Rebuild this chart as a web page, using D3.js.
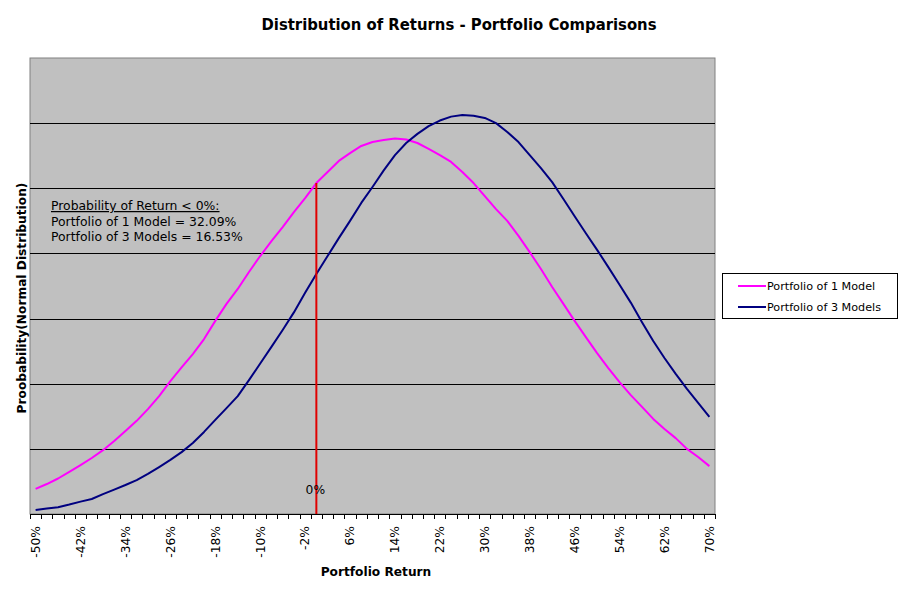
<!DOCTYPE html>
<html>
<head>
<meta charset="utf-8">
<script src="https://cdn.jsdelivr.net/npm/d3@7"></script>
<style>
  html, body { margin: 0; padding: 0; background: #ffffff; }
  svg { display: block; }
</style>
</head>
<body>
<div id="chart"></div>
<script>
// ---- data ----
const categories = d3.range(-50, 71, 2).map(v => v + "%");
const tickLabels = ["-50%","-42%","-34%","-26%","-18%","-10%","-2%","6%","14%","22%","30%","38%","46%","54%","62%","70%"];
const seriesNames = ["Portfolio of 1 Model", "Portfolio of 3 Models"];
const onePortfolio = [
  0.077,0.092,0.109,0.129,0.150,0.172,0.196,0.224,0.255,0.286,0.322,0.362,
  0.408,0.450,0.491,0.537,0.593,0.645,0.691,0.743,0.792,0.838,0.881,0.927,0.970,1.016,
  1.050,1.084,1.108,1.130,1.142,1.148,1.153,
  1.150,1.139,1.121,1.102,1.081,1.050,1.016,
  0.976,0.936,0.900,0.854,0.804,0.752,
  0.697,0.645,0.593,0.543,0.494,0.448,0.405,0.365,0.329,0.292,0.261,0.233,0.200,0.175,0.147
];
const threePortfolio = [
  0.012,0.017,0.021,0.029,0.038,0.046,0.061,0.075,0.089,0.104,0.123,0.144,0.166,0.190,0.218,0.252,
  0.289,0.325,0.362,0.411,0.462,0.513,0.565,0.619,0.679,0.737,0.792,0.847,0.900,0.955,1.004,
  1.055,1.102,1.139,1.167,1.191,1.208,1.220,1.225,1.223,1.216,1.200,1.173,1.142,1.102,1.062,
  1.019,0.967,0.914,0.862,0.811,0.758,0.704,0.649,0.589,0.531,0.479,0.430,0.384,0.341,0.298
];
const yGridValues = [0.2, 0.4, 0.6, 0.8, 1.0, 1.2];
const markerCategory = "0%";
const markerLabel = "0%";
const annotationLines = ["Probability of Return < 0%:", "Portfolio of 1 Model = 32.09%", "Portfolio of 3 Models = 16.53%"];
const titleText = "Distribution of Returns - Portfolio Comparisons";
const xTitle = "Portfolio Return";
const yTitle = "Proobability(Normal Distribution)";
const colors = ["#ff00ff", "#000080"];

// ---- layout ----
const W = 903, H = 592;
const plot = { left: 30, right: 715, top: 58, bottom: 514 };
const font = "'DejaVu Sans', Verdana, sans-serif";

const svg = d3.select("#chart").append("svg").attr("width", W).attr("height", H);

const x = d3.scaleBand().domain(categories).range([plot.left, plot.right]).padding(0);
const y = d3.scaleLinear().domain([0, 1.4]).range([plot.bottom, plot.top]);
const cx = c => x(c) + x.bandwidth() / 2;

// plot area
svg.append("rect")
  .attr("x", plot.left).attr("y", plot.top)
  .attr("width", plot.right - plot.left).attr("height", plot.bottom - plot.top)
  .attr("fill", "#c0c0c0").attr("stroke", "#808080").attr("stroke-width", 1);

// gridlines
svg.append("g").selectAll("line").data(yGridValues).join("line")
  .attr("x1", plot.left).attr("x2", plot.right)
  .attr("y1", d => Math.round(y(d)) + 0.5).attr("y2", d => Math.round(y(d)) + 0.5)
  .attr("stroke", "#000").attr("stroke-width", 1);

// x axis line + tick marks at band boundaries
svg.append("line")
  .attr("x1", plot.left).attr("x2", plot.right)
  .attr("y1", plot.bottom + 0.5).attr("y2", plot.bottom + 0.5)
  .attr("stroke", "#000").attr("stroke-width", 1);
const boundaries = categories.map(c => x(c)).concat([x.range()[1]]);
svg.append("g").selectAll("line").data(boundaries).join("line")
  .attr("x1", d => Math.round(d) + 0.5).attr("x2", d => Math.round(d) + 0.5)
  .attr("y1", plot.bottom).attr("y2", plot.bottom + 5)
  .attr("stroke", "#000").attr("stroke-width", 1);

// tick labels via axis
const xAxis = d3.axisBottom(x).tickValues(tickLabels).tickSize(0).tickPadding(0);
const gx = svg.append("g").attr("transform", `translate(0,${plot.bottom})`).call(xAxis);
gx.select(".domain").remove();
gx.selectAll("text")
  .attr("font-family", font).attr("font-size", 12.3).attr("fill", "#000")
  .attr("transform", "rotate(-90)")
  .attr("x", -12).attr("y", 0).attr("dy", "0.35em")
  .attr("text-anchor", "end");

// series lines
const line = d3.line().x((d, i) => cx(categories[i])).y(d => y(d));
[onePortfolio, threePortfolio].forEach((s, k) => {
  svg.append("path").datum(s)
    .attr("d", line).attr("fill", "none")
    .attr("stroke", colors[k]).attr("stroke-width", 2)
    .attr("stroke-linejoin", "round");
});

// red marker line at 0%
const mIdx = categories.indexOf(markerCategory);
svg.append("line")
  .attr("x1", cx(markerCategory)).attr("x2", cx(markerCategory))
  .attr("y1", y(onePortfolio[mIdx])).attr("y2", y(0))
  .attr("stroke", "#e00000").attr("stroke-width", 2);
svg.append("text")
  .attr("x", cx(markerCategory) - 1).attr("y", 494)
  .attr("text-anchor", "middle")
  .attr("font-family", font).attr("font-size", 12.3).attr("fill", "#000")
  .text(markerLabel);

// annotation
const ann = svg.append("text").attr("font-family", font).attr("font-size", 12.4).attr("fill", "#000");
annotationLines.forEach((t, i) => {
  ann.append("tspan").attr("x", 51).attr("y", 210 + i * 15.5)
    .attr("text-decoration", i === 0 ? "underline" : null)
    .text(t);
});

// title
svg.append("text")
  .attr("x", 459).attr("y", 30).attr("text-anchor", "middle")
  .attr("font-family", "'DejaVu Sans Condensed', 'DejaVu Sans', sans-serif")
  .attr("font-weight", "bold").attr("font-size", 16.5).attr("fill", "#000")
  .text(titleText);

// axis titles
svg.append("text")
  .attr("x", 376).attr("y", 576).attr("text-anchor", "middle")
  .attr("font-family", font).attr("font-weight", "bold").attr("font-size", 12.2).attr("fill", "#000")
  .text(xTitle);
svg.append("text")
  .attr("transform", `translate(26,298) rotate(-90)`)
  .attr("text-anchor", "middle")
  .attr("font-family", font).attr("font-weight", "bold").attr("font-size", 12.2).attr("fill", "#000")
  .text(yTitle);

// legend
const lg = svg.append("g");
lg.append("rect").attr("x", 722.5).attr("y", 273.5).attr("width", 175).attr("height", 45)
  .attr("fill", "#fff").attr("stroke", "#000").attr("stroke-width", 1);
seriesNames.forEach((n, i) => {
  const ly = 286 + i * 21;
  lg.append("line").attr("x1", 738).attr("x2", 766).attr("y1", ly).attr("y2", ly)
    .attr("stroke", colors[i]).attr("stroke-width", 2);
  lg.append("text").attr("x", 767).attr("y", ly).attr("dy", "0.35em")
    .attr("font-family", font).attr("font-size", 11.2).attr("fill", "#000")
    .text(n);
});
</script>
</body>
</html>
